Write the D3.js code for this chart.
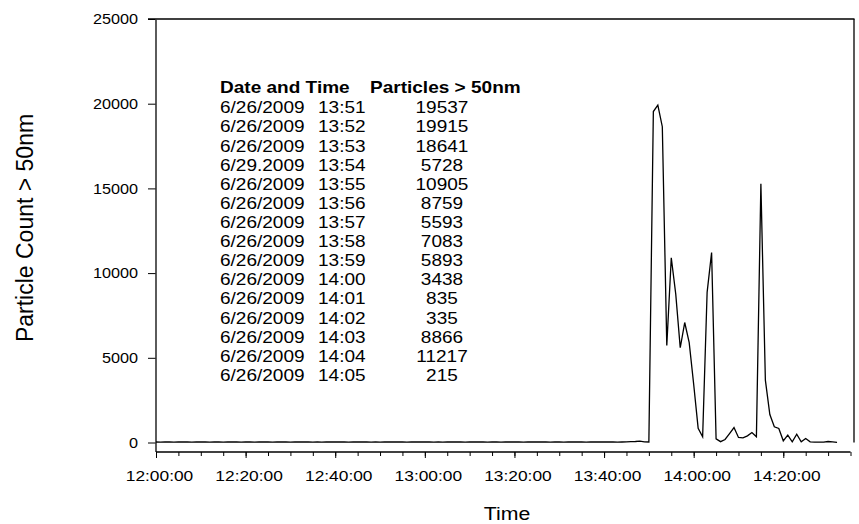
<!DOCTYPE html>
<html>
<head>
<meta charset="utf-8">
<script src="https://cdn.jsdelivr.net/npm/d3@7"></script>
<style>
    body { margin: 0; background: #fff; }
    svg text { font-family: "Liberation Sans", Arial, sans-serif; fill: #000; }
</style>
</head>
<body>
<svg id="chart" width="859" height="524"></svg>
<script>
// Particle counts, one reading per minute starting 12:00 on 6/26/2009
var startTime = "2009-06-26 12:00";
var endTime = "2009-06-26 14:35";
var counts = [
    30, 25, 35, 30, 20, 30, 40, 30, 25, 30,      // 12:00
    30, 35, 25, 30, 30, 20, 30, 35, 30, 25,      // 12:10
    30, 30, 25, 35, 30, 30, 20, 30, 30, 35,      // 12:20
    25, 30, 30, 30, 35, 25, 30, 20, 30, 30,      // 12:30
    30, 35, 30, 25, 30, 30, 30, 35, 25, 30,      // 12:40
    20, 30, 30, 30, 35, 30, 25, 30, 30, 30,      // 12:50
    35, 30, 25, 30, 20, 30, 30, 35, 30, 25,      // 13:00
    30, 30, 30, 35, 25, 30, 30, 20, 30, 30,      // 13:10
    35, 30, 25, 30, 30, 30, 35, 30, 25, 30,      // 13:20
    30, 20, 30, 30, 35, 30, 25, 30, 30, 30,      // 13:30
    35, 30, 30, 25, 30, 40, 50, 60, 80, 40,      // 13:40
    30,                                           // 13:50
    19537, 19915, 18641, 5728, 10905, 8759, 5593, 7083, 5893, 3438,   // 13:51
    835, 335, 8866, 11217, 215,                                        // 14:01
    50, 177, 530, 886, 295, 275, 394, 590, 335,                        // 14:06
    15270, 3680, 1650, 924, 827,                                       // 14:15
    98, 433, 40, 492, 40, 236, 40, 20, 20, 20,                         // 14:20
    60, 40, 10                                                         // 14:30
];

// Table printed inside the plot
var tableHeader = ["Date and Time", "Particles > 50nm"];
var tableDates = ["6/26/2009", "6/26/2009", "6/26/2009", "6/29.2009", "6/26/2009",
    "6/26/2009", "6/26/2009", "6/26/2009", "6/26/2009", "6/26/2009",
    "6/26/2009", "6/26/2009", "6/26/2009", "6/26/2009", "6/26/2009"];
var tableTimes = ["13:51", "13:52", "13:53", "13:54", "13:55", "13:56", "13:57", "13:58",
    "13:59", "14:00", "14:01", "14:02", "14:03", "14:04", "14:05"];
var tableValues = ["19537", "19915", "18641", "5728", "10905", "8759", "5593", "7083",
    "5893", "3438", "835", "335", "8866", "11217", "215"];

var yTicks = [0, 5000, 10000, 15000, 20000, 25000];

var parseTime = d3.timeParse("%Y-%m-%d %H:%M");
var t0 = parseTime(startTime);
var data = counts.map(function(c, i) {
    return { time: d3.timeMinute.offset(t0, i), value: c };
});

// the original picture is a bit wider than tall, so text gets stretched sideways
var SX = 1.12;
function stretch(sel) {
    sel.each(function() {
        var t = d3.select(this);
        var x = +t.attr("x") || 0;
        var y = +t.attr("y") || 0;
        t.attr("transform", "translate(" + x + "," + y + ") scale(" + SX + ",1) translate(" + (-x) + "," + (-y) + ")");
    });
}

var svg = d3.select("#chart");

// Scales
var xScale = d3.scaleTime()
    .domain([t0, parseTime(endTime)])
    .range([156, 850.5]);
var yScale = d3.scaleLinear()
    .domain([0, 25000])
    .range([442.5, 19]);

// Frame on top and right
svg.append("line")
    .attr("x1", 148).attr("x2", 854.5)
    .attr("y1", 19).attr("y2", 19)
    .attr("stroke", "#000").attr("stroke-width", 1.3);
svg.append("line")
    .attr("x1", 854).attr("x2", 854)
    .attr("y1", 19).attr("y2", 442.5)
    .attr("stroke", "#000").attr("stroke-width", 1.3);

// y-axis
var yAxis = d3.axisLeft(yScale)
    .tickValues(yTicks)
    .tickSize(8)
    .tickPadding(10)
    .tickFormat(d3.format("d"));
var gy = svg.append("g")
    .attr("transform", "translate(156,0)")
    .call(yAxis);
gy.select(".domain").remove();
gy.append("line")
    .attr("x1", 0).attr("x2", 0)
    .attr("y1", 19).attr("y2", 452)
    .attr("stroke", "#333").attr("stroke-width", 1.6);
gy.selectAll(".tick text").style("font-size", "14.5px").call(stretch);

// x-axis, minor ticks every 5 minutes
var xMinor = d3.axisBottom(xScale)
    .ticks(d3.timeMinute.every(5))
    .tickSize(4)
    .tickFormat("");
var gxm = svg.append("g")
    .attr("transform", "translate(0,452)")
    .call(xMinor);
gxm.select(".domain").remove();

var xAxis = d3.axisBottom(xScale)
    .ticks(d3.timeMinute.every(20))
    .tickSize(6)
    .tickPadding(12)
    .tickFormat(d3.timeFormat("%H:%M:%S"));
var gx = svg.append("g")
    .attr("transform", "translate(0,452)")
    .call(xAxis);
gx.select(".domain").attr("d", "M156,0H850.5").attr("stroke-width", 1.3);
gx.selectAll(".tick text")
    .attr("x", 3)
    .style("font-size", "15.5px")
    .call(stretch);

// Axis titles
svg.append("text")
    .attr("x", 507).attr("y", 520.5)
    .attr("text-anchor", "middle")
    .style("font-size", "19px")
    .text("Time")
    .call(stretch);
svg.append("text")
    .attr("transform", "translate(32.5,228) rotate(-90)")
    .attr("text-anchor", "middle")
    .style("font-size", "23px")
    .text("Particle Count > 50nm");

// Data line
var line = d3.line()
    .x(function(d) { return xScale(d.time); })
    .y(function(d) { return yScale(d.value); });
svg.append("path")
    .datum(data)
    .attr("fill", "none")
    .attr("stroke", "#000")
    .attr("stroke-width", 1.3)
    .attr("d", line);

// Table annotation
var table = svg.append("g").style("font-size", "17px");
table.append("text")
    .attr("x", 220).attr("y", 92.7)
    .style("font-weight", "bold")
    .text(tableHeader[0]);
table.append("text")
    .attr("x", 370).attr("y", 92.7)
    .style("font-weight", "bold")
    .text(tableHeader[1]);
tableDates.forEach(function(d, i) {
    var y = 113.3 + i * 19.12;
    table.append("text").attr("x", 220).attr("y", y).text(d);
    table.append("text").attr("x", 318).attr("y", y).text(tableTimes[i]);
    table.append("text").attr("x", 442).attr("y", y)
        .attr("text-anchor", "middle").text(tableValues[i]);
});
table.selectAll("text").call(stretch);
</script>
</body>
</html>
